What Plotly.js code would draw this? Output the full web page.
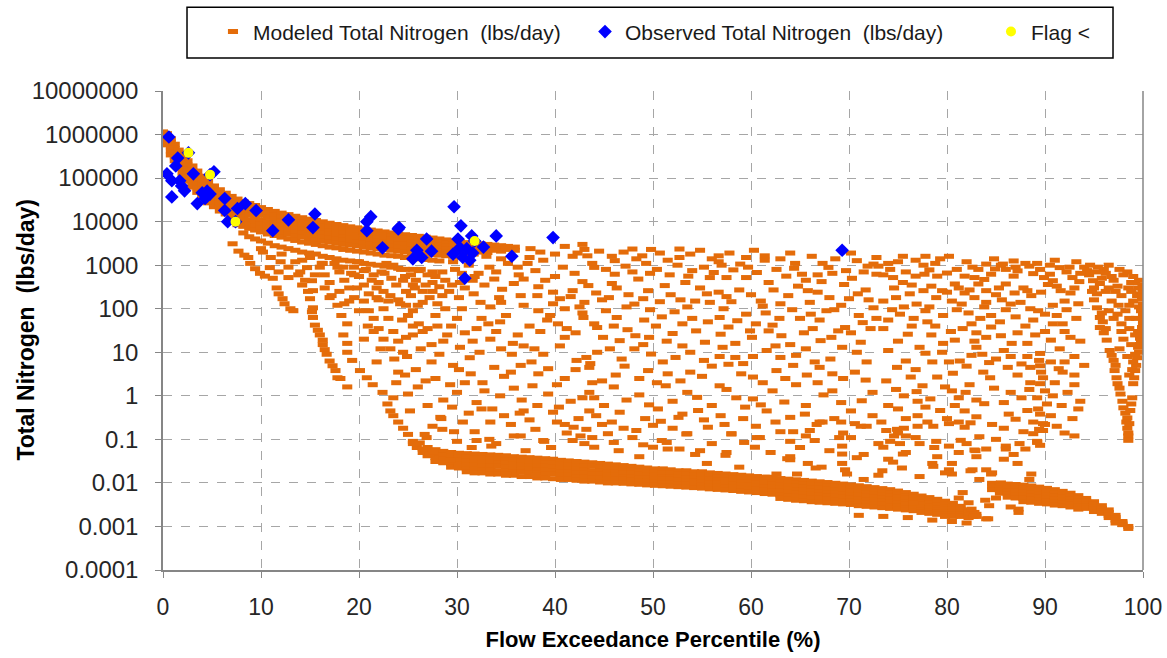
<!DOCTYPE html>
<html>
<head>
<meta charset="utf-8">
<script src="https://cdn.plot.ly/plotly-3.0.1.min.js"></script>
<style>html,body{margin:0;padding:0;background:#fff;}#chart{width:1167px;height:658px;}</style>
</head>
<body>
<div id="chart"></div>
<script>
// ---------- DATA ----------
// Modeled Total Nitrogen (lbs/day): rows are [flowPercentile, load, load, ...]
const modeledUpperBandRows = [
  [0,1.15e6,1e6,8.5e5],[0.4,1.05e6,8.5e5,7e5,5.8e5],[0.8,8e5,6.5e5,5.2e5,4.2e5,3.4e5],
  [1.2,6e5,4.8e5,3.9e5,3.1e5,2.5e5],[1.6,4.4e5,3.6e5,2.9e5,2.3e5,1.8e5],
  [2,3.3e5,2.7e5,2.2e5,1.75e5,1.4e5,1.1e5],[2.5,2.5e5,2e5,1.6e5,1.3e5,1.05e5,8.5e4],
  [3,1.9e5,1.5e5,1.2e5,9.8e4,7.8e4,6.2e4],[3.5,1.45e5,1.15e5,9.2e4,7.4e4,5.9e4,4.7e4],
  [4,1.1e5,8.8e4,7e4,5.6e4,4.5e4,3.6e4],[4.6,8.5e4,6.8e4,5.4e4,4.3e4,3.4e4,2.7e4],
  [5.2,6.6e4,5.3e4,4.2e4,3.4e4,2.7e4,2.2e4],[5.8,5.4e4,4.3e4,3.4e4,2.7e4,2.2e4,1.75e4],
  [6.4,4.5e4,3.6e4,2.9e4,2.3e4,1.85e4,1.5e4],[7,3.8e4,3.1e4,2.5e4,2e4,1.6e4,1.3e4,1e4],
  [7.6,3.3e4,2.7e4,2.2e4,1.75e4,1.4e4,1.1e4,8.5e3],[8.2,2.9e4,2.4e4,1.9e4,1.55e4,1.25e4,1e4,7.8e3,5.5e3],
  [8.8,2.6e4,2.1e4,1.7e4,1.4e4,1.1e4,9e3,7e3,4.5e3],[9.4,2.35e4,1.9e4,1.55e4,1.25e4,1e4,8e3,6.4e3,4e3],
  [10,2.1e4,1.7e4,1.4e4,1.1e4,9e3,7.2e3,5.8e3,3.6e3,2.4e3],[10.7,1.9e4,1.55e4,1.25e4,1e4,8.2e3,6.6e3,5.2e3,3.2e3],
  [11.4,1.72e4,1.4e4,1.15e4,9.2e3,7.4e3,6e3,4.8e3,2.8e3],[12.1,1.57e4,1.28e4,1.05e4,8.4e3,6.8e3,5.5e3,4.4e3,2.6e3,1.8e3],
  [12.8,1.45e4,1.18e4,9.6e3,7.8e3,6.3e3,5.1e3,4e3,2.4e3],[13.5,1.33e4,1.08e4,8.8e3,7.2e3,5.8e3,4.7e3,3.7e3,2.2e3],
  [14.2,1.23e4,1e4,8.2e3,6.7e3,5.4e3,4.4e3,3.4e3,2e3,1.3e3],[14.9,1.14e4,9.3e3,7.6e3,6.2e3,5e3,4.1e3,3.2e3,1.9e3],
  [15.6,1.06e4,8.7e3,7.1e3,5.8e3,4.7e3,3.8e3,3e3,1.8e3],[16.3,9.9e3,8.1e3,6.6e3,5.4e3,4.4e3,3.6e3,2.8e3,1.6e3,1.1e3],
  [17,9.2e3,7.6e3,6.2e3,5.1e3,4.2e3,3.4e3,2.6e3,1.5e3],[17.7,8.6e3,7.1e3,5.8e3,4.8e3,3.9e3,3.2e3,2.5e3,1.4e3],
  [18.4,8.1e3,6.7e3,5.5e3,4.5e3,3.7e3,3e3,2.3e3,1.3e3,900],[19.1,7.6e3,6.3e3,5.2e3,4.3e3,3.5e3,2.9e3,2.2e3,1.25e3],
  [19.8,7.2e3,6e3,4.9e3,4.1e3,3.4e3,2.8e3,2.1e3,1.2e3],[20.5,6.8e3,5.7e3,4.7e3,3.9e3,3.2e3,2.6e3,2e3,1.1e3,750],
  [21.2,6.4e3,5.4e3,4.5e3,3.7e3,3.1e3,2.5e3,1.9e3,1.05e3],[21.9,6.1e3,5.1e3,4.3e3,3.6e3,2.9e3,2.4e3,1.8e3,1e3],
  [22.6,5.8e3,4.9e3,4.1e3,3.4e3,2.8e3,2.3e3,1.7e3,950,650],[23.3,5.5e3,4.6e3,3.9e3,3.3e3,2.7e3,2.2e3,1.65e3,900],
  [24,5.2e3,4.4e3,3.7e3,3.1e3,2.6e3,2.1e3,1.6e3,850],[24.7,5e3,4.2e3,3.5e3,3e3,2.5e3,2e3,1.5e3,800,550],
  [25.4,4.8e3,4e3,3.4e3,2.85e3,2.4e3,1.95e3,1.45e3],[26.1,4.6e3,3.85e3,3.25e3,2.75e3,2.3e3,1.9e3,1.4e3,750],
  [26.8,4.4e3,3.7e3,3.1e3,2.65e3,2.2e3,1.8e3,1.35e3],[27.5,4.2e3,3.55e3,3e3,2.55e3,2.15e3,1.75e3,1.3e3,700],
  [28.2,4e3,3.4e3,2.9e3,2.45e3,2.1e3,1.7e3,1.25e3],[28.9,3.8e3,3.25e3,2.8e3,2.35e3,2e3,1.65e3],
  [29.6,3.6e3,3.1e3,2.7e3,2.3e3,1.95e3,1.6e3,1.2e3],[30.3,3.45e3,3e3,2.6e3,2.2e3,1.9e3,1.55e3],
  [31,3.3e3,2.9e3,2.5e3,2.15e3,1.85e3],[31.7,3.2e3,2.8e3,2.45e3,2.1e3,1.8e3],[32.4,3.1e3,2.7e3,2.35e3,2e3],
  [33.1,3e3,2.6e3,2.25e3,1.95e3],[33.8,2.9e3,2.5e3,2.2e3],[34.5,2.8e3,2.4e3,2.1e3],[35.2,2.7e3,2.3e3],[35.9,2.6e3,2.2e3]
];
const modeledLowBandRows = [
  [27,0.065,0.052,0.042],[27.8,0.058,0.047,0.038,0.031],[28.6,0.053,0.044,0.036,0.029],
  [29.4,0.05,0.041,0.034,0.028,0.023],[30.2,0.048,0.04,0.033,0.027,0.022],
  [31,0.047,0.039,0.032,0.026,0.021,0.018],[31.8,0.046,0.038,0.031,0.026,0.021,0.017],
  [32.6,0.045,0.037,0.03,0.025,0.02,0.017],[33.4,0.044,0.036,0.03,0.024,0.02,0.016],
  [34.2,0.043,0.035,0.029,0.024,0.019,0.016],[35,0.042,0.034,0.028,0.023,0.019,0.015],
  [35.8,0.04,0.033,0.027,0.022,0.018,0.015],[36.6,0.039,0.032,0.026,0.021,0.018,0.014],
  [37.4,0.038,0.031,0.025,0.021,0.017,0.014],[38.2,0.037,0.03,0.025,0.02,0.017,0.013],
  [39,0.036,0.029,0.024,0.02,0.016,0.013],[39.8,0.035,0.028,0.023,0.019,0.016,0.0125],
  [40.6,0.033,0.027,0.022,0.018,0.015,0.012],[41.4,0.032,0.026,0.021,0.018,0.015,0.012],
  [42.2,0.031,0.025,0.021,0.017,0.014,0.0115],[43,0.03,0.024,0.02,0.017,0.014,0.011],
  [43.8,0.029,0.024,0.019,0.016,0.013,0.011],[44.6,0.028,0.023,0.019,0.016,0.013,0.0105],
  [45.4,0.027,0.022,0.018,0.015,0.0125,0.01],[46.2,0.026,0.021,0.018,0.015,0.012,0.01],
  [47,0.025,0.021,0.017,0.014,0.012,0.0098],[47.8,0.024,0.02,0.017,0.014,0.0115,0.0095],
  [48.6,0.023,0.019,0.016,0.013,0.011,0.0093],[49.4,0.022,0.018,0.015,0.013,0.011,0.009],
  [50.2,0.021,0.018,0.015,0.0125,0.0105,0.0088],[51,0.021,0.017,0.014,0.012,0.01,0.0086],
  [51.8,0.02,0.017,0.014,0.012,0.0098,0.0084],[52.6,0.019,0.016,0.0135,0.0115,0.0096,0.0082],
  [53.4,0.019,0.016,0.013,0.011,0.0094,0.008],[54.2,0.018,0.015,0.0128,0.0108,0.0092,0.0078],
  [55,0.018,0.015,0.0125,0.0105,0.009,0.0076],[55.8,0.017,0.0145,0.012,0.0102,0.0087,0.0073],
  [56.6,0.0165,0.014,0.0118,0.01,0.0085,0.0071],[57.4,0.016,0.0135,0.0115,0.0097,0.0082,0.0069],
  [58.2,0.0155,0.013,0.011,0.0094,0.008,0.0067],[59,0.015,0.0127,0.0107,0.0091,0.0077,0.0064],
  [59.8,0.0145,0.0123,0.0104,0.0088,0.0074,0.0062],[60.6,0.014,0.0119,0.01,0.0085,0.0072,0.006],
  [61.4,0.0135,0.0115,0.0097,0.0082,0.0069,0.0057],[62.2,0.013,0.0111,0.0094,0.0079,0.0066,0.0055],
  [63,0.0126,0.0107,0.009,0.0076,0.0064,0.0053,0.0044],[63.8,0.0122,0.0103,0.0087,0.0073,0.0061,0.0051,0.0042],
  [64.6,0.0118,0.01,0.0084,0.007,0.0059,0.0049,0.004],[65.4,0.0114,0.0096,0.0081,0.0068,0.0057,0.0047,0.0039],
  [66.2,0.011,0.0093,0.0078,0.0065,0.0055,0.0045,0.0037],[67,0.0106,0.009,0.0075,0.0063,0.0053,0.0044,0.0036],
  [67.8,0.0102,0.0086,0.0072,0.006,0.0051,0.0042,0.0035],[68.6,0.0098,0.0083,0.007,0.0058,0.0049,0.0041,0.0034],
  [69.4,0.0094,0.008,0.0067,0.0056,0.0047,0.0039,0.0033],[70.2,0.009,0.0076,0.0064,0.0054,0.0045,0.0038,0.0032],
  [71,0.0086,0.0073,0.0061,0.0052,0.0043,0.0036,0.003],[71.8,0.0082,0.0069,0.0058,0.0049,0.0041,0.0035,0.0029],
  [72.6,0.0078,0.0066,0.0055,0.0047,0.004,0.0033,0.0028],[73.4,0.0074,0.0062,0.0052,0.0044,0.0038,0.0032,0.0027],
  [74.2,0.007,0.0059,0.005,0.0042,0.0036,0.003,0.0026],[75,0.0065,0.0055,0.0047,0.004,0.0034,0.0029,0.0025],
  [75.8,0.006,0.0051,0.0044,0.0037,0.0032,0.0027,0.0024],[76.6,0.0055,0.0047,0.004,0.0035,0.003,0.0026,0.0023],
  [77.4,0.005,0.0043,0.0037,0.0032,0.0028,0.0024,0.0021],[78.2,0.0046,0.004,0.0034,0.003,0.0026,0.0023,0.002],
  [79,0.0042,0.0036,0.0031,0.0027,0.0024,0.0021,0.0019],[79.8,0.0038,0.0033,0.0028,0.0025,0.0022,0.0019,0.0017],
  [80.6,0.0034,0.0029,0.0025,0.0022,0.0019,0.0017],[81.4,0.0029,0.0025,0.0022,0.0019,0.0017],
  [82.2,0.0024,0.0021,0.0018,0.0016],[83,0.0019,0.0017],
  [84.6,0.0098,0.0083,0.007],[85.4,0.0096,0.0081,0.0068,0.0058],[86.2,0.0094,0.0079,0.0066,0.0056,0.0047],
  [87,0.0092,0.0077,0.0064,0.0054,0.0045],[87.8,0.0089,0.0075,0.0062,0.0052,0.0044,0.0037],
  [88.6,0.0085,0.0072,0.006,0.005,0.0042,0.0036],[89.4,0.008,0.0068,0.0057,0.0048,0.004,0.0034],
  [90.2,0.0075,0.0064,0.0054,0.0046,0.0039,0.0033],[91,0.007,0.006,0.0051,0.0043,0.0037,0.0031],
  [91.8,0.0064,0.0055,0.0047,0.004,0.0035,0.003],[92.6,0.0058,0.005,0.0043,0.0037,0.0032,0.0028],
  [93.4,0.0051,0.0044,0.0038,0.0033,0.0029,0.0025],[94.2,0.0044,0.0038,0.0033,0.0029,0.0026],
  [95,0.0037,0.0032,0.0028,0.0025,0.0022],[95.8,0.003,0.0026,0.0023,0.002],[96.5,0.0024,0.0021,0.0018,0.0016],
  [97.2,0.0018,0.0016,0.0014,0.0012],[97.9,0.0013,0.0012,0.0011],[98.5,0.001,0.0009]
];
const modeledDescending = [
  [7.1,3100],[7.7,2100],[8.3,1700],[8.7,1500],[8.9,1100],[9.4,830],[9.9,650],[10.4,560],[10.9,880],
  [11.2,500],[11.6,300],[11.8,700],[11.8,220],[12.2,170],[12.4,130],[12.8,520],[13,100],[13.3,90],
  [14.7,880],[15.2,440],[15.3,260],[15.3,105],[15.2,85],[15.3,63],[15.5,42],[15.8,32],[16,25],
  [16.3,19],[16.3,15],[16.5,11.5],[16.7,9],[17,6.3],[17.3,4.9],[17.6,3.8],[17.8,2.6],[18.1,2.5],
  [18.8,1.6],[15,170],[15.5,600],
  [18.4,25],[18.8,16],[18.8,10],[19.3,6.5],[20.1,3.8],[20.8,2.6],[21.4,1.8],[22.4,1.2],[23.5,0.9],
  [22.9,0.65],[23.2,0.45],[23.5,0.35],[24,0.25],[24.5,0.18],[25,0.13],[25.5,0.09],[25.9,0.065],
  [26.2,0.083],[26.9,0.11],[27.5,0.2],[28.3,0.32],[28.5,0.17],[26.5,0.05],[27.2,0.045],
  [18.8,45],[18.2,70],[17.8,120],
  [13.5,1200],[14,700],[14.5,450],[15,1500],[16,900],[16.5,600],[17,400],[17.5,1100],[18,700],
  [18.5,450],[19,300],[19.5,900],[20,550],[20.5,350],[21,220],[21.5,600],[22,400],[22.5,250],
  [23,150],[23.5,1000],[20.5,150],[21,90],[21.5,60],[22,35],[22.5,100],[23,60],[23.5,30],[24,18],
  [24.5,10],[25,70],[25.5,40],[21.8,180],[23.2,200],[24.2,130],[25.3,200],[26,120],[26.5,30],
  [20.9,40],[22.2,12],[23.6,7],[24,3.5],[24.5,450],[25.5,350],[26.5,250],[27.5,400],[28.5,200],
  [19.5,180],[20,90],
  [10.2,2000],[11,1500],[12,1200],[12.8,900],[13.8,600],[14.2,350],[14.8,250],[16.5,300],[17.2,200],
  [18,250],[19,150],[19.8,300],[17,180],[18.5,130],[16.2,1100],[17.8,900],[19.2,650]
];
const modeledField = [
  [35,2500],[37.5,2400],[41,2700],[43,2300],[33,1600],[34.5,1400],[37.4,1500],[38.8,1300],[41.8,1600],
  [25.5,800],[27,600],[28.5,700],[30.5,650],[31.8,550],[34,700],[36.3,600],[38,750],[40,550],[42,650],
  [25.7,300],[27.5,250],[29.5,350],[31.7,220],[34.6,280],[36.5,200],[38.3,320],[39.8,240],[41.6,190],
  [24.8,120],[25.5,90],[28,130],[30.5,100],[33.4,110],[38.3,90],[39.8,130],[42.8,80],
  [24.4,55],[26.1,45],[28,40],[30,60],[32,35],[34.4,50],[37.4,40],[39.2,55],[41.2,35],[44,45],
  [24.8,22],[27.4,15],[29,25],[30.3,13],[33.4,20],[35.7,16],[37.9,12],[41,22],
  [24.9,8],[27.4,6],[29.6,5],[31.3,7.5],[33.8,4.5],[37.6,6],[39.3,4.2],[43.6,5.5],
  [24.7,3],[27.8,2.5],[29.3,1.8],[31.4,3.2],[32.6,2],[34.8,2.8],[37.7,1.7],[41,2.5],[43.8,2],
  [25,1.1],[28.6,0.8],[30,1.2],[32,0.7],[34.4,1],[36.6,0.8],[39.3,1.1],[41.6,0.75],[44,0.9],
  [25.2,0.45],[28.4,0.3],[31.2,0.4],[33.4,0.25],[34.8,0.35],[37.4,0.28],[39.8,0.42],[42.4,0.3],
  [26.7,0.13],[29.7,0.15],[33.3,0.1],[35.8,0.12],[38.9,0.09],[41.2,0.14],[43.8,0.11],
  [42.8,3000],[47.9,2350],[52.7,2350],[56.7,1640],[61.4,1640],
  [43.3,1640],[46.1,1270],[48.9,1640],[50.7,1900],[52.7,1500],[56.7,1200],[58.9,1060],[61.4,1300],
  [64.5,1100],[67.3,1100],[70.8,1270],[72.5,1060],
  [44,890],[46.1,620],[47.9,700],[49.7,650],[54,750],[55.8,520],[57.5,520],[59.5,520],[62.6,800],
  [65.2,620],[66.8,600],[67.9,890],[69.7,750],[71.5,700],[73,950],
  [43.4,340],[46.3,300],[49.5,260],[51.2,340],[53.3,400],[54.8,300],[56.7,240],[58.8,270],[62.3,270],
  [64.8,330],[66.8,240],[69.5,360],[71.7,270],
  [43,140],[44.8,160],[48.1,128],[50.7,145],[54.3,150],[55.8,140],[58,145],[63,130],[66,140],
  [68.5,95],[70,170],[72.5,105],
  [42.9,63],[44.3,37],[46.3,63],[49.1,55],[50.9,65],[54,60],[55.6,50],[56.8,63],[58.6,53],[60.5,45],
  [61.5,80],[62.9,60],[66.1,75],[67.7,90],[69.6,37],[71.4,48],
  [46.6,18.5],[48.2,24],[49.6,22],[52,27],[54.4,31],[56.9,26],[58.4,16],[59.9,31],[61.8,31],
  [63.1,24],[65.4,28],[67.1,18.5],[68.9,31],[71.2,17],
  [43.2,7.6],[45.6,12],[48.1,12],[49.8,9.1],[52.3,7.6],[53.8,10],[56.8,8],[58.4,7.6],[60.2,8],
  [63,7.6],[64.6,8.5],[68.1,7],[70.8,10],
  [43.5,4.5],[46.2,3],[48.6,2.5],[51.5,3.2],[53.8,3.5],[56,4.8],[57.7,5.3],[60.2,2.7],[62.6,3.8],
  [64.3,5],[67,4.5],[68.3,3.2],[70.6,3.5],
  [43.5,1.2],[46,1.6],[48.6,1.05],[51.3,1.7],[54.5,0.92],[57.5,1.4],[60.2,0.85],[62.2,1.3],
  [64.6,1.8],[67.4,1.05],[69.2,0.7],[71.3,0.77],
  [43.5,0.45],[46.6,0.42],[50.5,0.5],[52.6,0.32],[54.6,0.46],[56.9,0.35],[59.4,0.55],[61.6,0.45],
  [64,0.32],[67.3,0.25],[70.6,0.23],
  [41.9,0.19],[44.8,0.22],[48.3,0.16],[50.9,0.094],[53.4,0.133],[55.6,0.19],[58,0.133],[60.9,0.11],
  [64.3,0.15],[67,0.25],[69.4,0.14],[71.8,0.2],[74.9,0.17],[75.8,0.12],
  [50,0.066],[51.5,0.06],[54.3,0.045],[57.5,0.05],[60.4,0.066],[64,0.034],[66.5,0.094],[69.3,0.046],
  [70.8,0.038],[73.5,0.066],[75.5,0.046],
  [58.8,0.023],[61.7,0.0135],[64.7,0.016],[67.2,0.023],[69.8,0.016],[73,0.015],
  [32,0.094],[33.5,0.07],[36.5,0.12],[37,0.055],[38.8,0.094],[41,0.22],[41.8,0.094],[43.2,0.17],
  [44,0.066],[45.4,0.135],[46.5,0.055],[47.9,0.11],[48.6,0.04],[50,0.21],[51.4,0.085],[52,0.18],
  [53.5,0.135],[54.8,0.055],[55.5,0.028],[57.4,0.043],[58,0.135],[60.6,0.11],[63,0.15],[62.6,0.016],
  [63.7,0.036],[25.5,0.08],[26.5,0.06],[27.6,0.05],[29.3,0.033],[35,0.016],[38,0.015],
  [77.8,1600],[74,1100],[75,1200],[77.6,1000],[79.3,1400],[81,800],[82.6,900],[83.2,800],[84,1060],
  [85.7,1060],[86,800],[88,1100],[88.4,950],[90.5,620],[91.5,880],
  [73.5,600],[74.5,520],[75.5,400],[76.4,350],[77.7,620],[79,560],[79.5,260],[80.8,370],[81.8,230],
  [82.8,520],[83.2,370],[84.5,620],[85.3,300],[86,370],[87.8,300],[88.6,200],[89.9,520],[90.3,360],
  [91.6,260],[92.8,520],
  [73.5,150],[74.8,180],[75.6,110],[76.9,128],[77.8,90],[78.9,180],[80.5,150],[81.5,128],[82.8,180],
  [83.8,110],[84.5,70],[85.6,160],[86.5,128],[87.5,140],[88.5,100],[89.3,90],[90.8,120],[91.2,70],
  [74,55],[73.5,35],[76,26],[78,50],[78.8,40],[80.4,30],[80.8,19],[82.5,45],[83,28],[84.5,38],
  [85.5,24],[87.2,28],[88.2,16],[90,30],[90.6,19],
  [74,11],[75.8,6.3],[77.2,13],[77.8,9.5],[79.5,10],[80.2,6],[81.3,6.3],[82,4.8],[83,13],[83.6,9],
  [84.3,5.8],[85.8,11],[86.5,8],[87.6,5.4],[88.5,4.5],
  [73.8,2.2],[74.8,1.4],[76.3,2.7],[77.5,1.7],[79,2.7],[80.5,1.3],[81.2,0.9],[82.3,1.8],[84.4,2.6],
  [86.5,1.2],[88.5,2],
  [74,0.6],[75,0.5],[77,0.75],[77.8,0.55],[79.3,0.46],[80.8,0.6],[81.8,0.45],[83.8,0.66],[86.3,0.38],
  [87,0.29],[88.2,0.46],
  [73.8,0.16],[74.6,0.12],[77.2,0.08],[78.9,0.09],[82,0.08],[82.8,0.057],[83.3,0.115],[86,0.07],[87.4,0.08],
  [74,0.035],[78.5,0.028],[80.5,0.016],[80.2,0.02],[82.6,0.02],[83.3,0.012],[84.6,0.017],[85.5,0.01],[88.4,0.012],
  [82.8,0.0021],[84,0.0015],[87.3,0.0025],[76.6,0.0035],
  [85.5,1000],[87,900],[89.5,800],[90.5,1000],[92.5,900],[93,300],[92,150],[91.8,45],[92.6,22],[93,8],
  [91.8,3.5],[92.3,1.2],[93.4,0.5],[93.6,0.75],[91,2],[92,6],[93.2,60],[91.5,12],[92.8,0.3],[91.2,0.2],
  [66.7,0.22],[69.2,0.25],[71.2,0.2],[73.3,0.25],[75,0.14],[75.6,0.18],[77,0.2],[78,0.25],[80.2,0.23],
  [81.8,0.19],[82.4,0.24],[89.4,0.17],[90,0.22],
  [64,0.09],[65.6,0.12],[69,0.11],[69.3,0.07],[73,0.08],[75.2,0.08],[75.8,0.05],[76.8,0.11],[78.7,0.065],
  [80.2,0.07],[81.4,0.095],[82.9,0.055],[83,0.04],[85,0.1],[86,0.06],[89.2,0.09],
  [64,0.04],[65.8,0.028],[66.6,0.022],[69.3,0.028],[69.6,0.02],[71.5,0.012],[73.4,0.019],[74.5,0.03],
  [78.6,0.024],[79.8,0.017],[80.5,0.028],[82.4,0.019],[84,0.02],[84.5,0.016],[87.2,0.028],[88.6,0.016],
  [81.2,0.0045],[81.6,0.006],[82.2,0.0035],[82.5,0.0025],[83.9,0.004],[84.3,0.003],[85,0.0045],
  [86.5,0.0028],[87.3,0.0021],[82.7,0.0017],[84.2,0.0015],
  [71,0.0018],[73.5,0.0017],[76,0.0016],[78.5,0.0014],[80.5,0.0013],[82,0.0012],
  [89.5,9.4],[89.5,4.9],[89.8,2.6],[89.5,1.9],[89.2,0.9],[90.2,0.65],[89.5,0.38],[89.8,0.23],[88.8,0.135],
  [89.2,0.085],[89.5,0.073],[89.8,0.16],[89.3,0.5],[90,1.3],[89.6,3.5],[89.4,6.5]
];
const modeledFieldExtra = [
  [19.5,600],[20,1200],[20.7,800],[21.3,450],[21.8,300],[22.3,700],[22.8,1100],[23.3,500],[23.8,350],
  [24.3,800],[24.8,250],[25.3,600],[25.8,450],[26.3,800],[26.8,350],[27.2,180],[27.8,550],[28.2,320],
  [28.8,450],[29.2,250],[29.8,800],[30.3,400],[30.8,300],[31.2,1000],[31.6,450],[32.2,650],[32.8,350],
  [33.3,900],[33.8,480],[34.3,180],[35.2,1100],[35.8,380],[36.2,900],[36.8,480],[37.2,1100],[22,160],
  [24,160],[26.5,140],[28.8,100],[30.2,180],[32.4,140],[34.5,140],[36.8,120],
  [20.5,20],[21.5,30],[22.5,20],[23.2,12],[25.5,25],[26.3,12],[27,35],[27.8,70],[28.6,18],[29.4,40],
  [30.8,28],[31.6,18],[32.5,60],[33.2,45],[34,30],[35,70],[35.6,9],[36.2,25],[36.8,14],[21.8,6],[23.8,2],
  [25.8,4],[26.8,2.2],[28.2,9],[30.2,4],[32.3,10],[34.5,12],[35.5,3.5],[36.5,5],[26,1.6],[27,0.6],
  [29.5,0.55],[30.8,2],[32.8,1.3],[33.6,0.5],[35.8,1.5],[36.4,0.4],
  [38.5,2000],[40,1800],[42.3,1900],[44.5,2100],[45.8,1600],[47,2000],[48.3,1400],[49.8,2300],[51.5,1300],
  [53.8,1800],[54.8,2200],[56,1400],[57.8,1900],[59.5,1500],[60.3,2200],[63,1400],[64,1900],[66.2,1600],
  [68.6,1400],[70.2,1900],[72.8,1500],
  [39,450],[40.8,900],[42.8,420],[43.8,1100],[45.2,800],[45.8,380],[47.2,950],[48.5,480],[49.3,1100],
  [50.4,800],[51.7,600],[52.5,1000],[53.6,560],[55.2,900],[56.2,680],[57,1000],[58.2,780],[59.7,900],
  [60.6,680],[61.8,400],[63.6,560],[64.4,850],[65.6,450],[67.2,420],[68.3,650],[70.3,500],[71.9,950],[72.8,620],
  [38.2,200],[40.5,170],[41.8,260],[44.2,230],[45.5,180],[47.5,210],[49,170],[51.8,210],[52.8,160],
  [55.5,220],[57.5,190],[60,210],[61,150],[63.8,200],[65.8,260],[68,180],[70.9,220],[72,160],
  [39.5,70],[41,100],[42.5,110],[45.2,90],[47.3,110],[49.7,95],[52.2,85],[53.5,110],[57.2,100],[59.5,75],
  [61.2,115],[64.2,95],[65,60],[67,55],[69.2,120],[71,70],[72.8,60],
  [38.5,30],[40.3,45],[42.1,28],[44.9,22],[46,40],[47.4,33],[50.3,40],[51.4,18],[53,45],[55.3,17],
  [57.7,38],[60.1,22],[62.2,42],[64,15],[66.3,35],[68.2,22],[70.2,28],[72.2,35],
  [38.8,9],[40.5,14],[42.2,6.5],[44.3,10],[46.8,7],[49,15],[51,6],[53,14],[55.2,6.5],[57.1,13],[59.2,5.5],
  [61.6,11],[62.5,14],[65.6,12],[66.5,6],[69.3,13],[71.8,6],
  [38.3,3.2],[40.2,1.8],[42.1,4],[44.8,2.2],[47.1,4.8],[49.5,3.8],[50.4,2],[52.8,2.2],[55,2.8],[56.8,1.7],
  [59,3.2],[61.2,2],[63.5,2.5],[65.7,3],[66.8,2],[69.4,2.5],[71.7,2.3],
  [38.2,0.6],[40.4,0.55],[42.8,0.9],[45,0.6],[47.3,0.8],[49.6,0.62],[52,0.75],[53.5,1.2],[56,0.6],
  [58.5,0.9],[61,0.62],[63.4,0.72],[65.6,0.6],[68.3,1.3],[70.2,0.45],[72.4,1.2],
  [30.6,0.25],[31.8,0.15],[32.5,0.5],[35.5,0.22],[36.8,0.45],[38,0.17],[40.2,0.25],[42.6,0.12],[44.2,0.35],
  [45.8,0.25],[47,0.18],[49.2,0.3],[50.8,0.26],[53,0.38],[55.2,0.28],[57.3,0.22],[59.2,0.3],[60.5,0.2],
  [62.5,0.25],[65.5,0.38],[66,0.16],[68.5,0.3],[70.2,0.11],[72.4,0.35],
  [30,0.09],[31.5,0.065],[34,0.08],[39.6,0.065],[43,0.08],[46,0.085],[49,0.075],[52.7,0.06],[56,0.08],
  [59.3,0.085],[62,0.05],[65,0.065],[68,0.055],[71.5,0.045],[74.2,0.09],
  [75.5,1600],[76.8,1300],[78.8,1100],[80.2,1600],[82,1200],[84.8,1400],[86.8,1250],[89.2,1100],[91,1300],[93.2,1200],
  [74.2,800],[75.8,700],[76.8,560],[78.2,780],[80,660],[81.8,560],[83.8,470],[84.9,820],[86.8,560],[87.2,740],
  [88.8,640],[90.8,440],[92.2,700],[93.5,420],
  [74.6,300],[76.2,220],[77.6,260],[78.4,330],[80,240],[81.2,300],[82.3,270],[84,260],[85,210],[86.9,230],
  [88.2,260],[89.6,240],[91.2,330],[92.6,230],
  [74.4,95],[75.2,75],[76.6,60],[78.2,110],[79.6,70],[81,95],[82.2,80],[83.4,60],[84,140],[86,95],[87,65],
  [88.8,55],[90,75],[92.2,95],[93.4,130],
  [75,18],[76.4,40],[78.4,25],[79.6,16],[81.6,35],[82.8,18],[84,22],[85.4,50],[86.6,16],[88,40],[89,25],
  [90.8,45],[92,30],[93.6,18],
  [74.9,4.5],[76.8,4],[78.5,6],[80.6,3.3],[82.5,8.5],[83.7,3.5],[85,7],[86.2,4.5],[87.2,3],[88.2,8],[90.6,6],
  [91.4,4.2],[93,3],[94,5],
  [75.6,1],[76.9,1.25],[78.3,0.85],[79.8,1.6],[81.9,1.2],[83,0.8],[84.8,1.5],[85.8,0.7],[87.6,0.9],[88.4,1.4],
  [90.8,1],[91.7,0.6],[93,1.8],
  [75.8,0.3],[77,0.35],[78.6,0.2],[80,0.3],[81.2,0.25],[83,0.33],[84.6,0.22],[85.8,0.18],[87.8,0.15],[88.8,0.25],
  [90.6,0.35],[92,0.14],[93,0.12],
  [75.4,0.022],[77.2,0.014],[79,0.04],[81.2,0.05],[84,0.06],[85.8,0.035],[86.8,0.045],[88,0.06]
];
const modeledRightEdge = [
  [94.3,750],[94.9,440],[95.3,220],[95.3,105],[95.6,63],[95.6,37],[96.3,19],[96.6,11],[97,6.5],[97.1,3.8],
  [97.3,2.6],[97.4,1.9],[97.7,1.1],[98,0.53],[98.4,0.31],[98.4,0.18],[98.5,0.12],[98.5,0.095],[95,300],
  [95.9,50],[96,28],[96.8,8.5],[97.2,5],[97.6,1.5],[97.9,0.75],[98.2,0.4],[98.3,0.25],[98.5,0.14],
  [99.7,220],[100,130],[100,63],[99.9,37],[99.7,21],[99.5,13],[99.4,7.5],[99.2,3.8],[99,1.9],[98.9,0.9],
  [98.7,0.46],[98.6,0.23],[99.8,90],[99.6,28],[99.3,5],[99.1,2.6],[98.8,0.65],[99.9,170],[100,45],
  [96.5,300],[97.2,250],[97.8,200],[98.5,300],[99.2,400],[96.8,150],[97.5,120],[98.2,90],[99,150],[97,60],
  [97.8,45],[98.6,35],[99.3,60],[98,20],[98.8,15],[99.5,30],[98.4,8],[99,6],[94,900],[94.5,600],[95.8,500],
  [96,800],[96.5,1000],[93.6,650],[95.2,700],[97,450],[98,600],[99.5,300],[98.8,250],
  [94.6,1000],[95.4,900],[96.2,650],[96.8,550],[97.6,800],[98.4,700],[99,550],[99.6,450],[100,350],[95.6,380],
  [96.2,250],[97.4,330],[98.8,400],[99.4,200],[100,250],[96.5,90],[97.4,75],[98.6,120],[99.6,110],[97.8,30],
  [98.6,60],[99.2,25],[99.8,18],[100,80],[99.6,10],[99.2,9],[98.9,4],[98.6,3],[97.6,12],[96.2,35],[95.8,80],
  [95,160],[94.8,250],[99.9,300],[100,200],[99.9,100],[100,50],[99.8,25],[99.7,15]
];

// Observed Total Nitrogen (lbs/day)
const observedX = [0.6,0.4,0.9,0.9,1.3,1.5,1.7,1.9,2.2,2.6,3.1,3.5,4.0,4.3,4.5,4.8,4.8,5.2,6.3,6.3,6.6,7.4,7.6,8.4,9.5,
  11.2,12.8,15.3,15.5,20.8,20.8,21.2,22.4,24.0,24.1,25.5,25.9,26.4,26.9,27.4,29.6,29.7,30.1,30.3,30.4,30.6,30.8,
  31.0,31.3,31.5,31.6,31.8,32.7,34.0,35.6,39.8,69.3];
const observedY = [8.8e5,1.25e5,8.7e4,3.7e4,1.9e5,2.9e5,8.7e4,6.6e4,5.1e4,3.8e5,1.25e5,2.6e4,4.6e4,3.4e4,5e4,4.3e4,1.2e5,1.4e5,
  3.4e4,1.8e4,1e4,1e4,2e4,2.6e4,1.8e4,6.2e3,1.1e4,7.3e3,1.5e4,1e4,6.2e3,1.3e4,2.5e3,6.8e3,7.3e3,1.4e3,2.2e3,1.5e3,4e3,
  2.1e3,1.8e3,2.2e4,4e3,2.5e3,8e3,1.5e3,500,2.4e3,1.3e3,4.7e3,1.9e3,3.6e3,2.6e3,4.7e3,1.6e3,4.3e3,2.2e3];
// Flag <
const flagX = [2.6,4.8,7.4,31.8];
const flagY = [3.8e5,1.2e5,1e4,3.6e3];

// Axis ticks
const yTickVals = [1e-4,1e-3,1e-2,1e-1,1,10,100,1e3,1e4,1e5,1e6,1e7];
const yTickText = ['0.0001','0.001','0.01','0.1','1','10','100','1000','10000','100000','1000000','10000000'];
const xTickVals = [0,10,20,30,40,50,60,70,80,90,100];

// ---------- BUILD ----------
const modeledX = [], modeledY = [];
[modeledUpperBandRows, modeledLowBandRows].forEach(rows => rows.forEach(r => {
  for (let i = 1; i < r.length; i++) { modeledX.push(r[0]); modeledY.push(r[i]); }
}));
[modeledDescending, modeledField, modeledFieldExtra, modeledRightEdge].forEach(g => g.forEach(p => {
  modeledX.push(p[0]); modeledY.push(p[1]);
}));

const ORANGE = '#E46C0A';
const FONT = 'Liberation Sans, Arial, sans-serif';

const traces = [
  {type:'scatter', mode:'markers', name:'Modeled Total Nitrogen \u00a0(lbs/day)', x:modeledX, y:modeledY,
   legend:'legend',
   marker:{symbol:'line-ew', size:7.2, color:ORANGE, line:{color:ORANGE, width:5}}},
  {type:'scatter', mode:'markers', name:'Observed Total Nitrogen \u00a0(lbs/day)', x:observedX, y:observedY,
   legend:'legend2',
   marker:{symbol:'diamond', size:10.5, color:'#0000FF', line:{width:0}}},
  {type:'scatter', mode:'markers', name:'Flag <', x:flagX, y:flagY,
   legend:'legend3',
   marker:{symbol:'circle', size:10, color:'#FFFF00', line:{width:0}}}
];

const legendBase = {orientation:'h', yanchor:'middle', y:1.121, xanchor:'left', bgcolor:'rgba(0,0,0,0)',
  borderwidth:0, font:{family:FONT, size:21, color:'#1a1a1a'}};

const layout = {
  width:1167, height:658,
  margin:{l:163, r:24, t:90, b:88},
  paper_bgcolor:'#ffffff', plot_bgcolor:'#ffffff',
  showlegend:true,
  legend:Object.assign({}, legendBase, {x:0.051}),
  legend2:Object.assign({}, legendBase, {x:0.4306}),
  legend3:Object.assign({}, legendBase, {x:0.8449}),
  xaxis:{range:[0,100], tickvals:xTickVals, showgrid:true, gridcolor:'#a6a6a6', griddash:'dash', gridwidth:1,
    zeroline:false, showline:true, linecolor:'#868686', linewidth:1.5, ticks:'outside', ticklen:6,
    tickcolor:'#868686', tickfont:{family:FONT, size:23, color:'#262626'}, ticklabelstandoff:10,
    title:{text:'<b>Flow Exceedance Percentile (%)</b>', font:{family:FONT, size:22, color:'#000'}, standoff:12}},
  yaxis:{type:'log', range:[-4,7], tickvals:yTickVals, ticktext:yTickText, showgrid:true, gridcolor:'#a6a6a6',
    griddash:'dash', gridwidth:1, zeroline:false, showline:true, linecolor:'#868686', linewidth:1.5,
    ticks:'outside', ticklen:6, tickcolor:'#868686', tickfont:{family:FONT, size:24, color:'#262626'},
    ticklabelstandoff:12},
  shapes:[
    {type:'rect', xref:'paper', yref:'paper', x0:0.0245, x1:0.9694, y0:1.06875, y1:1.175,
     line:{color:'#000', width:1.5}, fillcolor:'rgba(0,0,0,0)'},
    {type:'line', xref:'paper', yref:'paper', x0:1, x1:1, y0:0, y1:1, line:{color:'#868686', width:1.5}}
  ],
  annotations:[
    {text:'<b>Total Nitrogen \u00a0(lbs/day)</b>', xref:'paper', yref:'paper', x:-0.1398, y:0.502,
     xanchor:'center', yanchor:'middle', textangle:-90, showarrow:false,
     font:{family:FONT, size:23, color:'#000'}}
  ]
};

Plotly.newPlot('chart', traces, layout, {displayModeBar:false, responsive:false});
</script>
</body>
</html>
